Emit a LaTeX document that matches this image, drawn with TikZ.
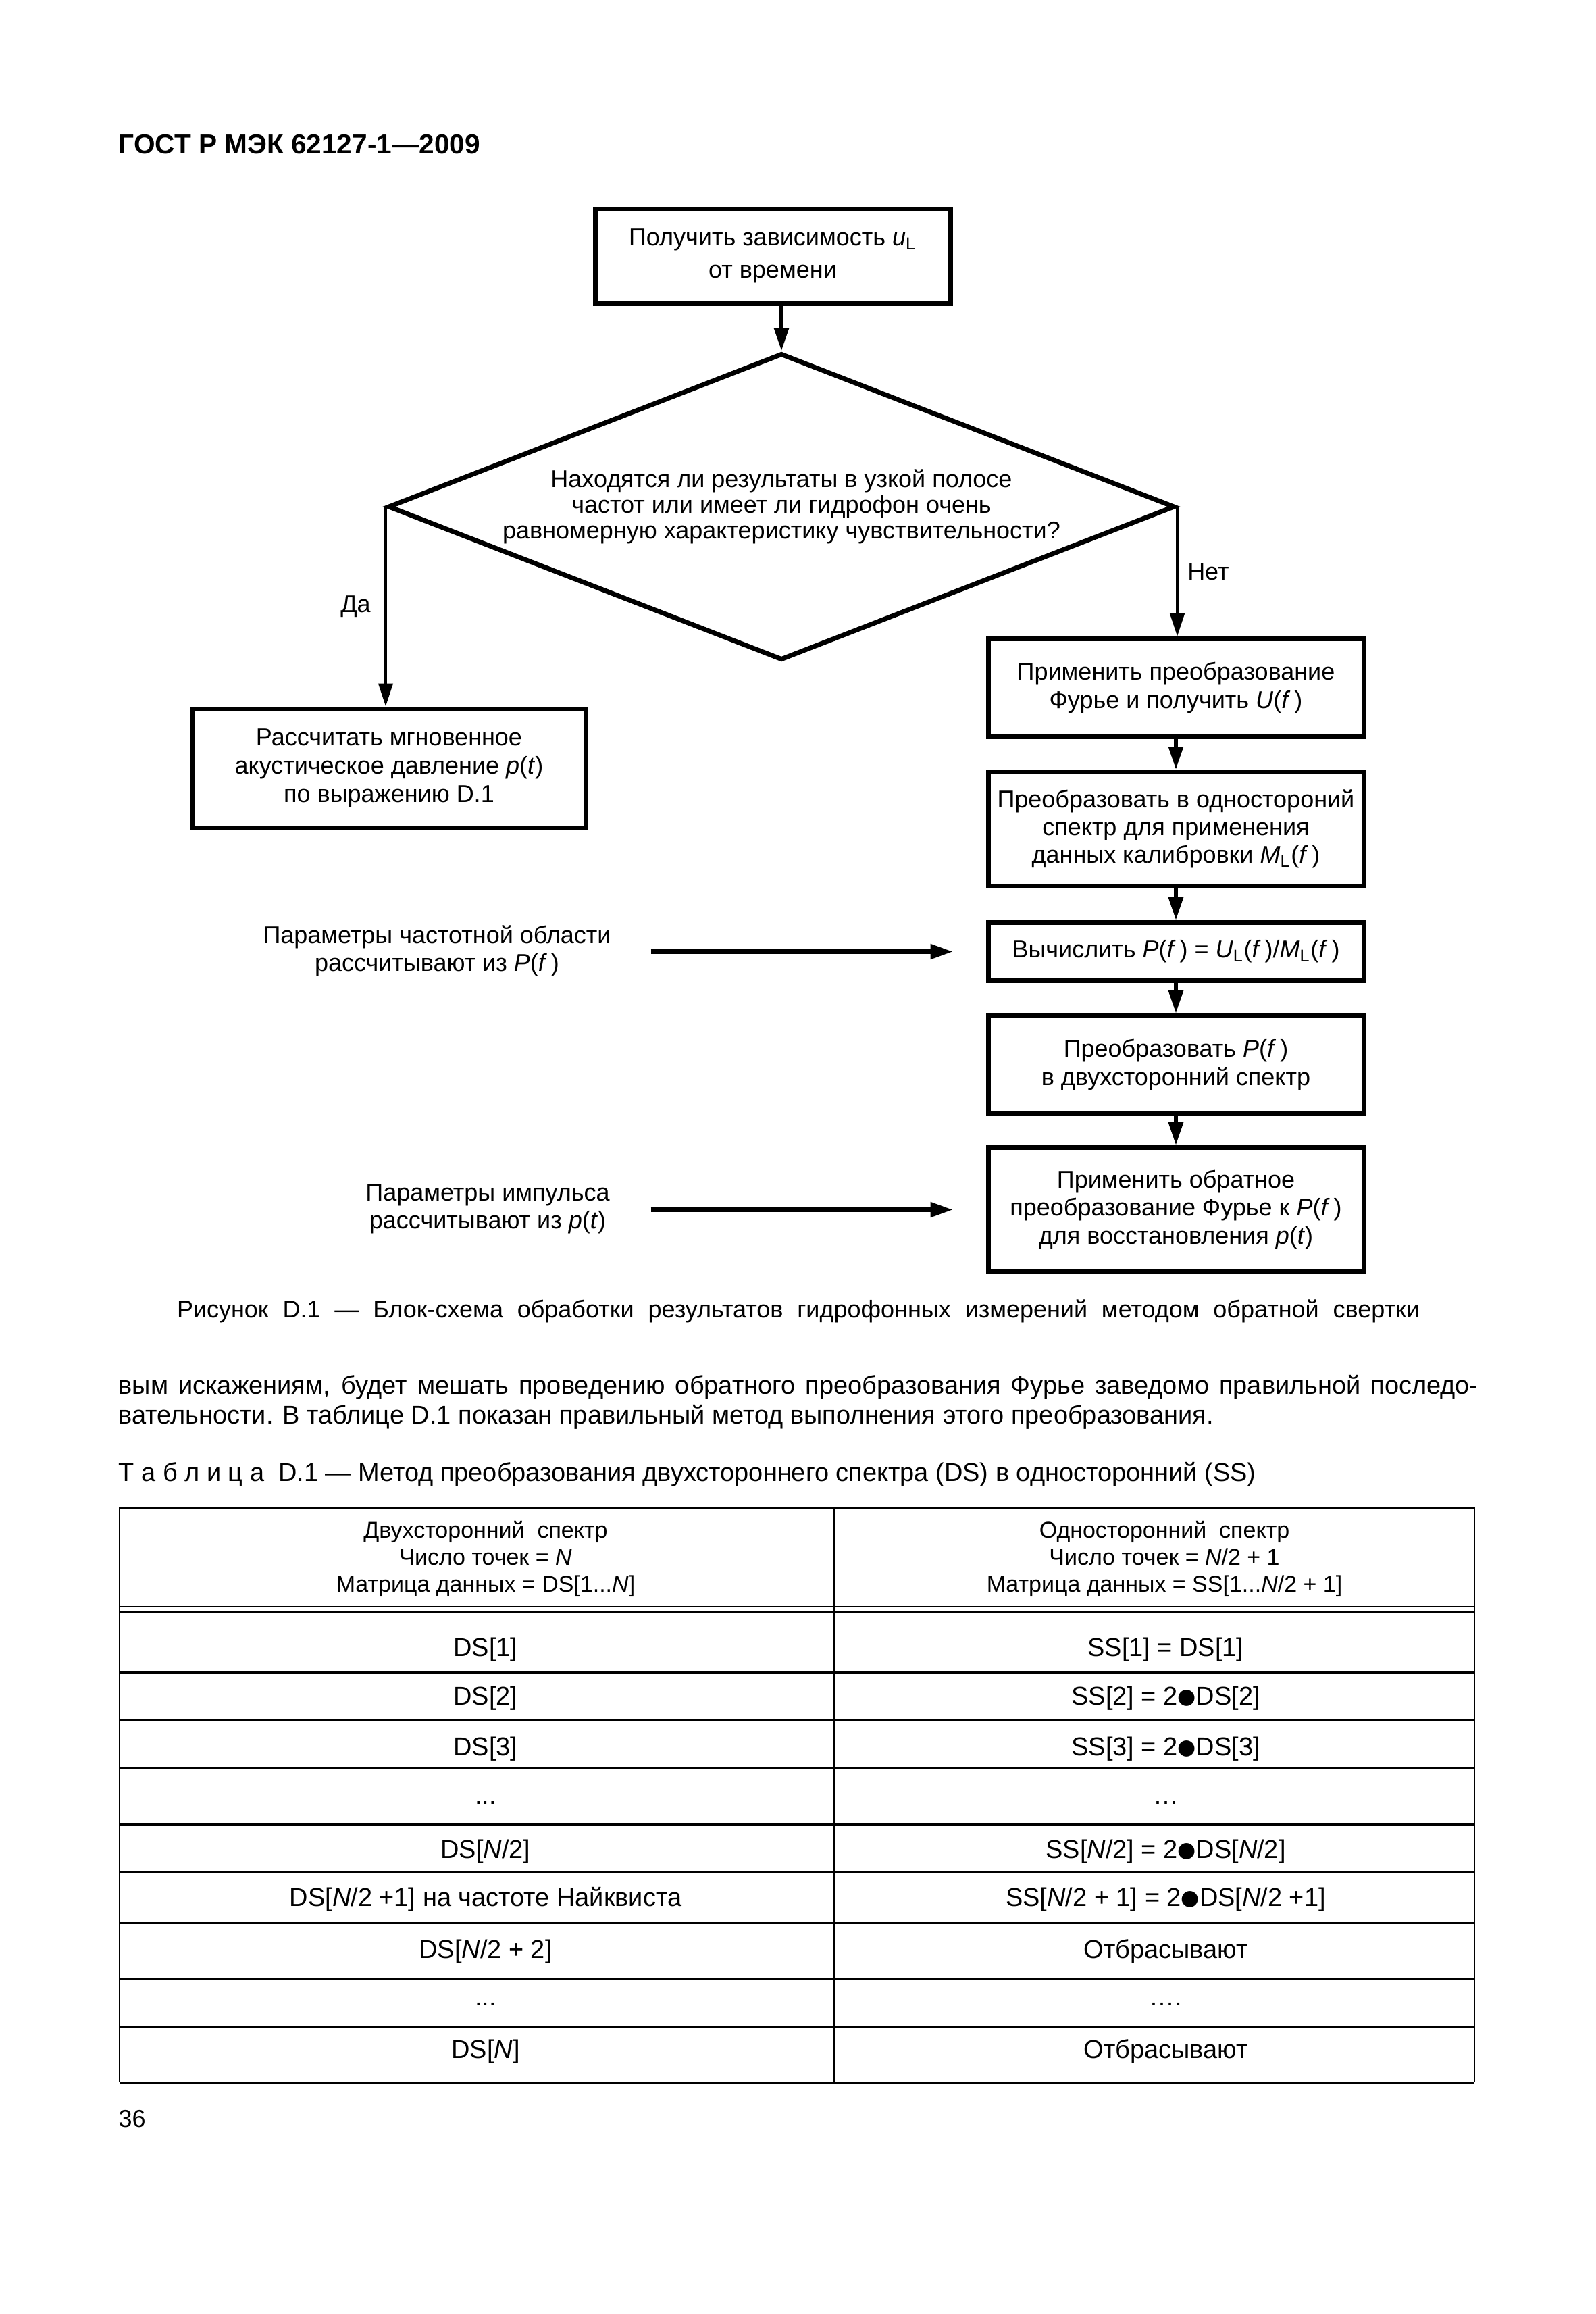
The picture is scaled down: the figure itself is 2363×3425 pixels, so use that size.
\documentclass[tikz,border=0pt]{standalone}
\usepackage{graphicx}
\usepackage{fontspec}
\setmainfont{Liberation Sans}
\newfontfamily\dotfont{DejaVu Sans}
\usetikzlibrary{positioning,shapes.geometric,arrows.meta}
\newcommand*\fsz[2]{\fontsize{#1}{#2}\selectfont}
\newcommand*\vi[1]{\textit{#1}}
\newcommand*\bdot{\raisebox{0.1ex}{\scalebox{0.82}{\dotfont ●}}}
\tikzset{
  block/.style={draw,line width=0.7mm,align=center,inner sep=0pt,
    minimum width=55.6mm,font=\fsz{10.24pt}{11.7pt}},
  decision/.style={diamond,draw,line width=0.7mm,aspect=2.56,inner sep=0pt,
    minimum width=116.5mm,minimum height=45.4mm,align=center,font=\fsz{10.24pt}{10.9pt}},
  flow/.style={line width=0.6mm,-{Triangle[length=3.4mm,width=2.1mm]}},
  branch/.style={flow,line width=0.45mm},
  feed/.style={flow,line width=0.75mm},
  note/.style={align=center,inner sep=0pt,font=\fsz{10.24pt}{11.7pt}},
  prose/.style={anchor=base west,inner sep=0pt,font=\fsz{10.8pt}{13pt}},
  cell/.style={anchor=base,inner sep=0pt,font=\fsz{10.8pt}{13pt}},
  headcell/.style={align=center,inner sep=0pt,font=\fsz{9.67pt}{11.38pt}},
  tabline/.style={line width=0.3mm},
  hairline/.style={line width=0.15mm}
}

\begin{document}
\begin{tikzpicture}[x=0.1mm,y=-0.1mm]
  \useasboundingbox (0,0) rectangle (2363,3425);

  % Page header
  \node[anchor=base west,inner sep=0pt,font=\bfseries\fsz{11.55pt}{13pt}] (gost) at (175,227)
    {ГОСТ Р МЭК 62127-1—2009};

  % Start and the decision
  \node[block,minimum width=52.6mm,minimum height=14mm,font=\fsz{10.24pt}{13.6pt}] (start) at (1144,379)
    {Получить зависимость \vi{u}\textsubscript{L}\\от времени};
  \node[decision] (ask) at (1157,750)
    {Находятся ли результаты в узкой полосе\\частот или имеет ли гидрофон очень\\равномерную характеристику чувствительности?};
  \node[block,minimum width=58.2mm,minimum height=17.6mm,font=\fsz{10.24pt}{12pt}] (yes) at (576,1137)
    {Рассчитать мгновенное\\акустическое давление \vi{p}(\vi{t})\\по выражению D.1};

  % The right-hand column
  \node[block,minimum height=14.5mm] (fourier) at (1741,1018)
    {Применить преобразование\\Фурье и получить \vi{U}(\vi{f}\,)};
  \node[block,minimum height=16.9mm,below=4.5mm of fourier] (onesided)
    {Преобразовать в одностороний\\спектр для применения\\данных калибровки \vi{M}\textsubscript{L}(\vi{f}\,)};
  \node[block,minimum height=8.6mm,below=4.7mm of onesided] (ratio)
    {Вычислить \vi{P}(\vi{f}\,) = \vi{U}\textsubscript{L}(\vi{f}\,)/\vi{M}\textsubscript{L}(\vi{f}\,)};
  \node[block,minimum height=14.5mm,below=4.5mm of ratio] (twosided)
    {Преобразовать \vi{P}(\vi{f}\,)\\в двухсторонний спектр};
  \node[block,minimum height=18.4mm,below=4.3mm of twosided] (inverse)
    {Применить обратное\\преобразование Фурье к \vi{P}(\vi{f}\,)\\для восстановления \vi{p}(\vi{t})};

  % Connectors
  \draw[flow] (start.south -| ask.north) -- (ask.north);
  \draw[branch] (ask.west) -- node[note,left=2mm] (yeslbl) {Да} (ask.west |- yes.north);
  \draw[branch] (ask.east) -- node[note,right=1.3mm] (nolbl) {Нет} (ask.east |- fourier.north);
  \draw[flow] (fourier.south) -- (onesided.north);
  \draw[flow] (onesided.south) -- (ratio.north);
  \draw[flow] (ratio.south) -- (twosided.north);
  \draw[flow] (twosided.south) -- (inverse.north);

  % Parameters taken from the results
  \node[note] (freqnote) at (647,1407)
    {Параметры частотной области\\рассчитывают из \vi{P}(\vi{f}\,)};
  \node[note] (pulsenote) at (722,1789)
    {Параметры импульса\\рассчитывают из \vi{p}(\vi{t})};
  \coordinate[left=4.8mm of ratio.west] (freqtip);
  \coordinate[left=44.8mm of freqtip] (freqtail);
  \coordinate[left=4.8mm of inverse.west] (pulsetip);
  \coordinate[left=44.8mm of pulsetip] (pulsetail);
  \draw[feed] (freqtail) -- (freqtip);
  \draw[feed] (pulsetail) -- (pulsetip);

  % Caption and running text
  \node[anchor=base,inner sep=0pt,font=\fsz{10.24pt}{12pt}] (caption) at (1182,1950)
    {\makebox[184mm][s]{Рисунок D.1 — Блок-схема обработки результатов гидрофонных измерений методом обратной свертки}};
  \node[prose] (para) at (175,2063)
    {\makebox[201.3mm][s]{вым искажениям, будет мешать проведению обратного преобразования Фурье заведомо правильной последо-}};
  \node[prose] (parb) at (175,2107)
    {вательности. В таблице D.1 показан правильный метод выполнения этого преобразования.};
  \node[prose] (tabtitle) at (175,2192)
    {Т а б л и ц а\ \ D.1 — Метод преобразования двухстороннего спектра (DS) в односторонний (SS)};

  % Table rules
  \draw[tabline] (177,2231) -- (2183,2231);
  \draw[hairline] (177,2378) -- (2183,2378);
  \draw[hairline] (177,2386) -- (2183,2386);
  \draw[tabline] (177,2475) -- (2183,2475);
  \draw[tabline] (177,2546) -- (2183,2546);
  \draw[tabline] (177,2617) -- (2183,2617);
  \draw[tabline] (177,2700) -- (2183,2700);
  \draw[tabline] (177,2771) -- (2183,2771);
  \draw[tabline] (177,2846) -- (2183,2846);
  \draw[tabline] (177,2929) -- (2183,2929);
  \draw[tabline] (177,3000) -- (2183,3000);
  \draw[tabline] (177,3082) -- (2183,3082);
  \draw[hairline] (177,2231) -- (177,3082);
  \draw[hairline] (1235,2231) -- (1235,3082);
  \draw[hairline] (2183,2231) -- (2183,3082);

  % Table header
  \node[headcell] (dshead) at (719,2307)
    {Двухсторонний\ \ спектр\\Число точек = \vi{N}\\Матрица данных = DS[1...\vi{N}]};
  \node[headcell] (sshead) at (1724,2307)
    {Односторонний\ \ спектр\\Число точек = \vi{N}/2 + 1\\Матрица данных = SS[1...\vi{N}/2 + 1]};

  % Table body
  \node[cell] (ds1) at (719,2451) {DS[1]};
  \node[cell] (ss1) at (1726,2451) {SS[1] = DS[1]};
  \node[cell] (ds2) at (719,2523) {DS[2]};
  \node[cell] (ss2) at (1726,2523) {SS[2] = 2\bdot DS[2]};
  \node[cell] (ds3) at (719,2598) {DS[3]};
  \node[cell] (ss3) at (1726,2598) {SS[3] = 2\bdot DS[3]};
  \node[cell] (dsgap) at (719,2670) {...};
  \node[cell] (ssgap) at (1726,2670) {…};
  \node[cell] (dshalf) at (719,2750) {DS[\vi{N}/2]};
  \node[cell] (sshalf) at (1726,2750) {SS[\vi{N}/2] = 2\bdot DS[\vi{N}/2]};
  \node[cell] (dsnyq) at (719,2821) {DS[\vi{N}/2 +1] на частоте Найквиста};
  \node[cell] (ssnyq) at (1726,2821) {SS[\vi{N}/2 + 1] = 2\bdot DS[\vi{N}/2 +1]};
  \node[cell] (dsnext) at (719,2898) {DS[\vi{N}/2 + 2]};
  \node[cell] (ssnext) at (1726,2898) {Отбрасывают};
  \node[cell] (dsgapb) at (719,2968) {...};
  \node[cell] (ssgapb) at (1726,2968) {….};
  \node[cell] (dslast) at (719,3046) {DS[\vi{N}]};
  \node[cell] (sslast) at (1726,3046) {Отбрасывают};

  % Page number
  \node[anchor=base west,inner sep=0pt,font=\fsz{10.24pt}{12pt}] (pageno) at (175,3148) {36};
\end{tikzpicture}
\end{document}
